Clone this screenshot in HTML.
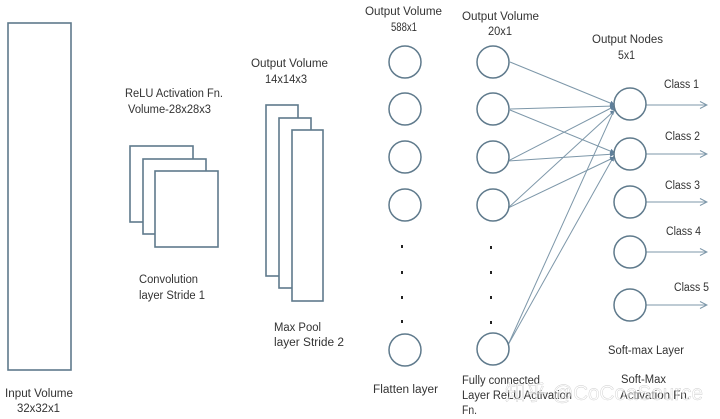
<!DOCTYPE html>
<html><head><meta charset="utf-8"><style>
html,body{margin:0;padding:0;background:#fff}
svg{display:block}
text{font-family:"Liberation Sans","Noto Sans CJK SC",sans-serif;font-size:11.5px;fill:#333}
.s{fill:#fff;stroke:#5f7a8c;stroke-width:1.6}
.c{fill:#fff;stroke:#5f7a8c;stroke-width:1.5}
.l{stroke:#7d97a9;stroke-width:1;fill:none}
.d{fill:#222}
</style></head><body>
<svg width="720" height="419" viewBox="0 0 720 419" xmlns="http://www.w3.org/2000/svg">
<defs><marker id="a" markerWidth="9" markerHeight="9" refX="8" refY="4" orient="auto" markerUnits="userSpaceOnUse"><path d="M1 .5L8 4L1 7.5" fill="none" stroke="#7d97a9" stroke-width="1"/></marker>
<marker id="b" markerWidth="6" markerHeight="6" refX="5" refY="3" orient="auto" markerUnits="userSpaceOnUse"><path d="M0 .5L5 3L0 5.5Z" fill="#5f7f9a"/></marker></defs>
<rect class="s" x="8" y="23" width="63" height="347"/>
<rect class="s" x="130" y="146" width="63" height="76"/>
<rect class="s" x="143" y="159" width="63" height="75"/>
<rect class="s" x="155" y="171" width="63" height="76"/>
<rect class="s" x="266" y="105" width="32" height="171"/>
<rect class="s" x="279" y="118" width="32" height="170"/>
<rect class="s" x="292" y="130" width="31" height="171"/>
<g class="l">
<path marker-end="url(#b)" d="M510 62L615 105"/>
<path marker-end="url(#b)" d="M510 109L615 106"/>
<path marker-end="url(#b)" d="M510 110L615 153"/>
<path marker-end="url(#b)" d="M508 161L615 106"/>
<path marker-end="url(#b)" d="M508 161L615 154"/>
<path marker-end="url(#b)" d="M508 208L615 110"/>
<path marker-end="url(#b)" d="M508 208L615 157"/>
<path marker-end="url(#b)" d="M508 345L616 106"/>
<path marker-end="url(#b)" d="M508 345L614 156"/>
<path marker-end="url(#a)" d="M646 105H707"/>
<path marker-end="url(#a)" d="M646 154H707"/>
<path marker-end="url(#a)" d="M646 202H707"/>
<path marker-end="url(#a)" d="M646 252H707"/>
<path marker-end="url(#a)" d="M646 305H707"/>
</g>
<g class="c">
<circle cx="405" cy="62" r="16"/><circle cx="405" cy="109" r="16"/><circle cx="405" cy="157" r="16"/><circle cx="405" cy="205" r="16"/><circle cx="405" cy="350" r="16"/>
<circle cx="493" cy="62" r="16"/><circle cx="493" cy="109" r="16"/><circle cx="493" cy="157" r="16"/><circle cx="493" cy="205" r="16"/><circle cx="493" cy="349" r="16"/>
<circle cx="630" cy="104" r="16"/><circle cx="630" cy="154" r="16"/><circle cx="630" cy="202" r="16"/><circle cx="630" cy="252" r="16"/><circle cx="630" cy="305" r="16"/>
</g>
<g class="d">
<rect x="401" y="245" width="2" height="3"/><rect x="401" y="271" width="2" height="3"/><rect x="401" y="296" width="2" height="3"/><rect x="401" y="320" width="2" height="3"/>
<rect x="490" y="246" width="2" height="3"/><rect x="490" y="271" width="2" height="3"/><rect x="490" y="296" width="2" height="3"/><rect x="490" y="321" width="2" height="3"/>
</g>
<text x="5" y="397" textLength="68" lengthAdjust="spacingAndGlyphs">Input Volume</text>
<text x="17" y="412" textLength="43" lengthAdjust="spacingAndGlyphs">32x32x1</text>
<text x="125" y="97" textLength="98" lengthAdjust="spacingAndGlyphs">ReLU Activation Fn.</text>
<text x="128" y="113" textLength="83" lengthAdjust="spacingAndGlyphs">Volume-28x28x3</text>
<text x="139" y="283" textLength="59" lengthAdjust="spacingAndGlyphs">Convolution</text>
<text x="139" y="299" textLength="66" lengthAdjust="spacingAndGlyphs">layer Stride 1</text>
<text x="251" y="67" textLength="77" lengthAdjust="spacingAndGlyphs">Output Volume</text>
<text x="265" y="83" textLength="42" lengthAdjust="spacingAndGlyphs">14x14x3</text>
<text x="274" y="331" textLength="47" lengthAdjust="spacingAndGlyphs">Max Pool</text>
<text x="274" y="346" textLength="70" lengthAdjust="spacingAndGlyphs">layer Stride  2</text>
<text x="365" y="15" textLength="77" lengthAdjust="spacingAndGlyphs">Output Volume</text>
<text x="391" y="31" textLength="26" lengthAdjust="spacingAndGlyphs">588x1</text>
<text x="373" y="393" textLength="65" lengthAdjust="spacingAndGlyphs">Flatten layer</text>
<text x="462" y="20" textLength="77" lengthAdjust="spacingAndGlyphs">Output Volume</text>
<text x="488" y="35" textLength="24" lengthAdjust="spacingAndGlyphs">20x1</text>
<text x="462" y="384" textLength="78" lengthAdjust="spacingAndGlyphs">Fully connected</text>
<text x="462" y="399" textLength="110" lengthAdjust="spacingAndGlyphs">Layer ReLU Activation</text>
<text x="462" y="414" textLength="15" lengthAdjust="spacingAndGlyphs">Fn.</text>
<text x="592" y="43" textLength="71" lengthAdjust="spacingAndGlyphs">Output Nodes</text>
<text x="618" y="59" textLength="17" lengthAdjust="spacingAndGlyphs">5x1</text>
<text x="664" y="88" textLength="35" lengthAdjust="spacingAndGlyphs">Class  1</text>
<text x="665" y="140" textLength="35" lengthAdjust="spacingAndGlyphs">Class  2</text>
<text x="665" y="189" textLength="35" lengthAdjust="spacingAndGlyphs">Class  3</text>
<text x="666" y="235" textLength="35" lengthAdjust="spacingAndGlyphs">Class  4</text>
<text x="674" y="291" textLength="35" lengthAdjust="spacingAndGlyphs">Class  5</text>
<text x="608" y="354" textLength="76" lengthAdjust="spacingAndGlyphs">Soft-max Layer</text>
<text x="621" y="383" textLength="45" lengthAdjust="spacingAndGlyphs">Soft-Max</text>
<text x="620" y="399" textLength="70" lengthAdjust="spacingAndGlyphs">Activation Fn.</text>
<text x="505" y="400" textLength="198" lengthAdjust="spacingAndGlyphs" style="font-size:21px;fill:#fff;fill-opacity:.55;stroke:#b5b5b5;stroke-width:.4;stroke-opacity:.7">知乎 @CoCoaSource</text>
</svg>
</body></html>
